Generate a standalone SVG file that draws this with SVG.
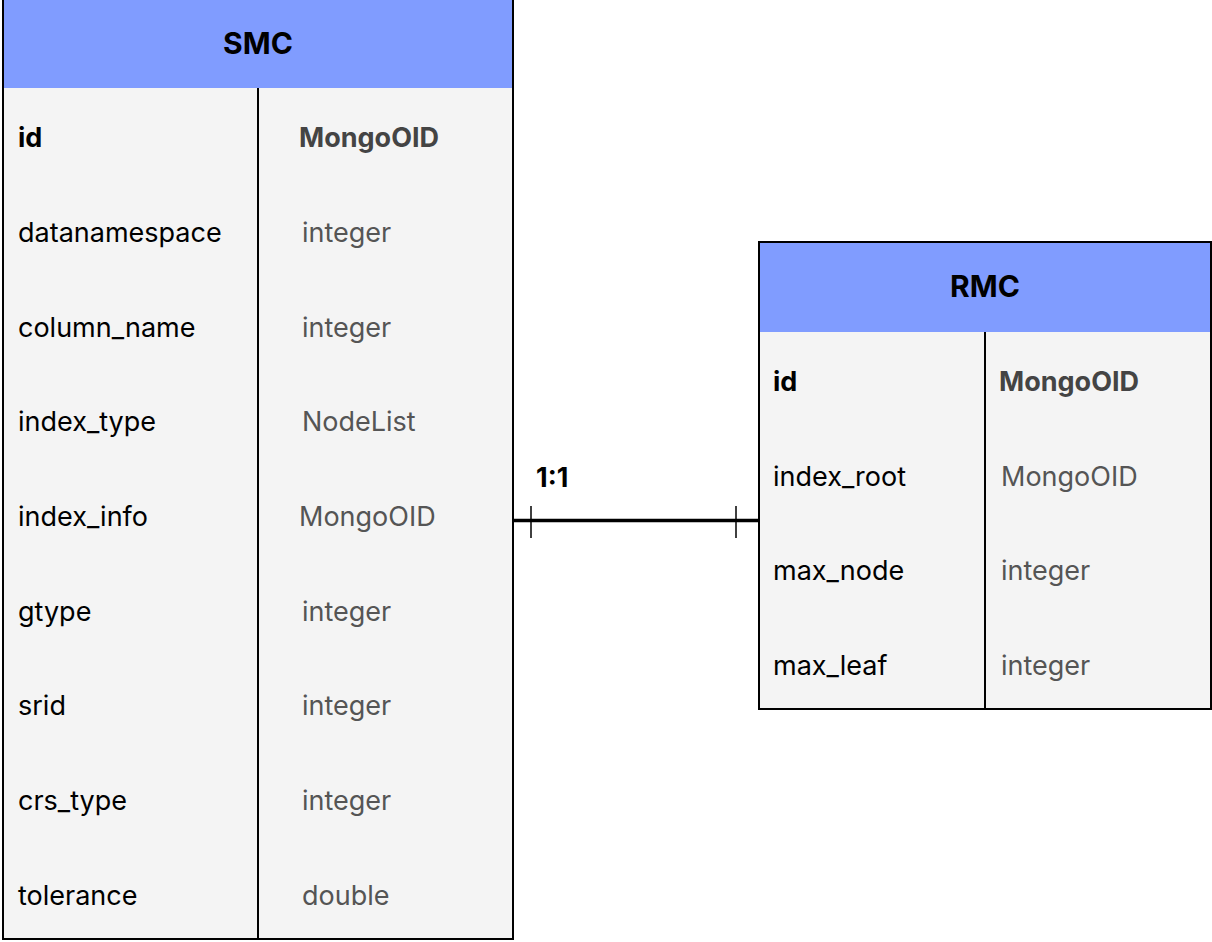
<svg xmlns="http://www.w3.org/2000/svg" width="1212" height="942" viewBox="0 0 1212 942">
  <style>
    .body { fill: #f4f4f4; }
    .head { fill: #809cff; }
    .frame { fill: none; stroke: #000; stroke-width: 2; }
    .div { stroke: #000; stroke-width: 2; }
    .title { font-family: Inter, "Liberation Sans", sans-serif; font-size: 30px; font-weight: 700; fill: #000; text-anchor: middle; }
    .name { font-family: Inter, "Liberation Sans", sans-serif; font-size: 27px; fill: #000; }
    .type { font-family: Inter, "Liberation Sans", sans-serif; font-size: 27px; fill: #555; }
    .key { font-weight: 700; }
    .keytype { font-weight: 700; fill: #444; }
    .label { font-family: Inter, "Liberation Sans", sans-serif; font-size: 27px; font-weight: 700; fill: #000; }
    .conn { stroke: #000; fill: none; }
  </style>

  <!-- SMC table -->
  <g id="smc">
    <rect class="body" x="3" y="0" width="510" height="939"/>
    <rect class="head" x="3" y="0" width="510" height="88"/>
    <line class="div" x1="258" y1="88" x2="258" y2="939"/>
    <rect class="frame" x="3" y="-2" width="510" height="941"/>
    <text class="title" x="258" y="54">SMC</text>
    <text class="name key" x="18" y="147">id</text>
    <text class="type keytype" x="299" y="147">MongoOID</text>
    <text class="name" x="18" y="242">datanamespace</text>
    <text class="type" x="302" y="242">integer</text>
    <text class="name" x="18" y="337">column_name</text>
    <text class="type" x="302" y="337">integer</text>
    <text class="name" x="18" y="431">index_type</text>
    <text class="type" x="302" y="431">NodeList</text>
    <text class="name" x="18" y="526">index_info</text>
    <text class="type" x="299" y="526">MongoOID</text>
    <text class="name" x="18" y="621">gtype</text>
    <text class="type" x="302" y="621">integer</text>
    <text class="name" x="18" y="715">srid</text>
    <text class="type" x="302" y="715">integer</text>
    <text class="name" x="18" y="810">crs_type</text>
    <text class="type" x="302" y="810">integer</text>
    <text class="name" x="18" y="905">tolerance</text>
    <text class="type" x="302" y="905">double</text>
  </g>

  <!-- RMC table -->
  <g id="rmc">
    <rect class="body" x="759" y="242" width="452" height="467"/>
    <rect class="head" x="759" y="242" width="452" height="90"/>
    <line class="div" x1="985" y1="332" x2="985" y2="709"/>
    <rect class="frame" x="759" y="242" width="452" height="467"/>
    <text class="title" x="985" y="297">RMC</text>
    <text class="name key" x="773" y="391">id</text>
    <text class="type keytype" x="999" y="391">MongoOID</text>
    <text class="name" x="773" y="486">index_root</text>
    <text class="type" x="1001" y="486">MongoOID</text>
    <text class="name" x="773" y="580">max_node</text>
    <text class="type" x="1001" y="580">integer</text>
    <text class="name" x="773" y="675">max_leaf</text>
    <text class="type" x="1001" y="675">integer</text>
  </g>

  <!-- one-to-one relation -->
  <g id="connectors">
    <line class="conn" x1="513" y1="520.5" x2="759" y2="520.5" stroke-width="3.5"/>
    <line class="conn" x1="531" y1="506" x2="531" y2="538" stroke-width="1.5"/>
    <line class="conn" x1="736" y1="506" x2="736" y2="538" stroke-width="1.5"/>
    <text class="label" x="536" y="487">1:1</text>
  </g>
</svg>
